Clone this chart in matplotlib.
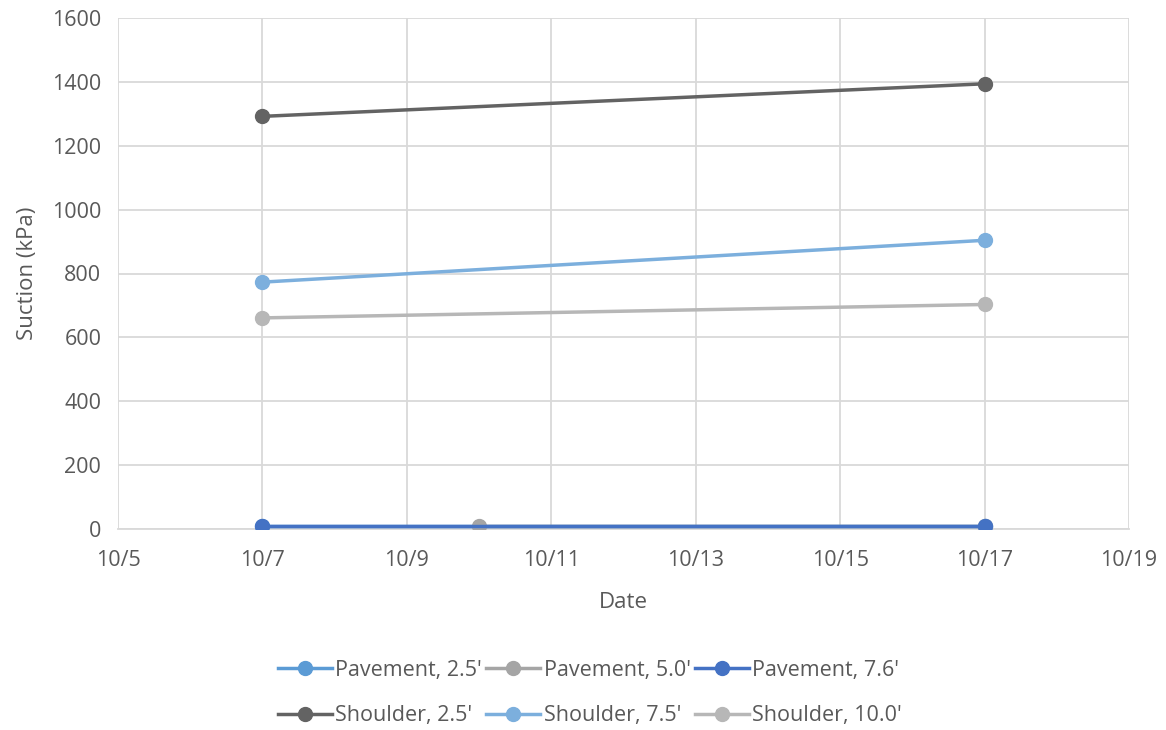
import datetime as dt
import matplotlib
matplotlib.use("Agg")
import matplotlib.pyplot as plt
import matplotlib.dates as mdates

plt.rcParams['font.family'] = ['Open Sans', 'DejaVu Sans']

# Measurement dates (October) and suction values (kPa)
series_names = ["Pavement, 2.5'", "Pavement, 5.0'", "Pavement, 7.6'",
                "Shoulder, 2.5'", "Shoulder, 7.5'", "Shoulder, 10.0'"]
pav_25_days = [7, 17]
pav_25_vals = [10, 10]
pav_50_days = [10, 17]
pav_50_vals = [10, 10]
pav_76_days = [7, 17]
pav_76_vals = [10, 10]
sh_25_days = [7, 17]
sh_25_vals = [1292, 1394]
sh_75_days = [7, 17]
sh_75_vals = [773, 904]
sh_100_days = [7, 17]
sh_100_vals = [661, 703]

colors = ["#5B9BD5", "#A5A5A5", "#4472C4", "#636363", "#7CAFDD", "#B7B7B7"]
year = 2016

def to_dates(days):
    return [dt.date(year, 10, d) for d in days]

data = [(pav_25_days, pav_25_vals), (pav_50_days, pav_50_vals),
        (pav_76_days, pav_76_vals), (sh_25_days, sh_25_vals),
        (sh_75_days, sh_75_vals), (sh_100_days, sh_100_vals)]

fig = plt.figure(figsize=(11.66, 7.3), dpi=100)
ax = fig.add_axes([118/1166, 1 - 529/730, (1129-118)/1166, (529-18)/730])

text_c = "#595959"
grid_c = "#D9D9D9"

handles = []
for name, (days, vals), c in zip(series_names, data, colors):
    h, = ax.plot(to_dates(days), vals, color=c, lw=2.5, marker='o', ms=10,
                 label=name, zorder=3)
    handles.append(h)

ax.set_xlim(dt.date(year, 10, 5), dt.date(year, 10, 19))
ax.set_ylim(0, 1600)
ax.xaxis.set_major_locator(mdates.DayLocator(bymonthday=range(5, 20, 2)))
ax.xaxis.set_major_formatter(matplotlib.ticker.FuncFormatter(
    lambda x, p: f"{mdates.num2date(x).month}/{mdates.num2date(x).day}"))
ax.set_yticks(range(0, 1601, 200))

ax.grid(True, color=grid_c, lw=1.3, zorder=0)
for s in ax.spines.values():
    s.set_visible(False)
ax.spines['bottom'].set_visible(True)
ax.spines['bottom'].set_color(grid_c)
ax.spines['bottom'].set_linewidth(1.3)
ax.tick_params(length=0, labelsize=15.5, colors=text_c)
ax.tick_params(axis='x', pad=15)
ax.tick_params(axis='y', pad=12)

ax.set_xlabel("Date", fontsize=16, color=text_c, labelpad=15)
ax.set_ylabel("Suction (kPa)", fontsize=16, color=text_c, labelpad=10)

# legend laid out row by row: reorder for matplotlib's column-major filling
order = [0, 3, 1, 4, 2, 5]
leg = fig.legend([handles[i] for i in order], [series_names[i] for i in order],
                 loc='center', bbox_to_anchor=(590/1166, 1 - 693/730), ncol=3,
                 frameon=False, fontsize=15.5, handlelength=2.5, handletextpad=0.15,
                 columnspacing=0.2, labelspacing=1.15)
for t in leg.get_texts():
    t.set_color(text_c)

fig.savefig("out.png", dpi=100)
